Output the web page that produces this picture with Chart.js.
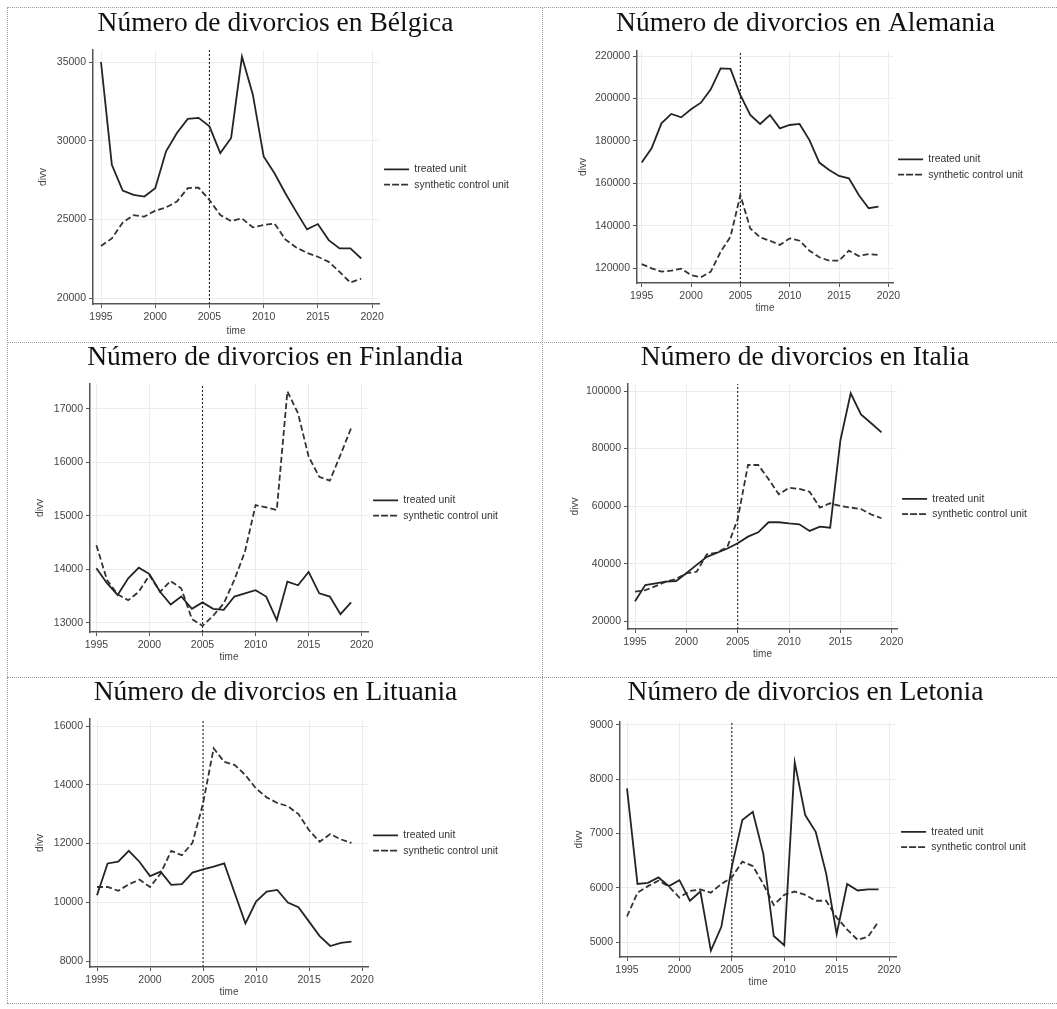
<!DOCTYPE html>
<html lang="es">
<head>
<meta charset="UTF-8" />
<meta name="viewport" content="width=device-width, initial-scale=1" />
<title>Número de divorcios - control sintético</title>
<script src="https://cdn.jsdelivr.net/npm/chart.js"></script>
<style>
  body { margin: 0; background: #fff; overflow: hidden; }
  #page { position: relative; width: 1057px; height: 1009px; overflow: hidden; background: #fff; }
  .sep { position: absolute; border: 0 dotted #9a9a9a; }
  .h { height: 0; border-top-width: 1px; }
  .v { width: 0; border-left-width: 1px; }
  canvas { position: absolute; }
</style>
</head>
<body>
<div id="page">
  <div class="sep h" style="left:7px;top:7px;width:1050px"></div>
  <div class="sep h" style="left:7px;top:342px;width:1050px"></div>
  <div class="sep h" style="left:7px;top:677px;width:1050px"></div>
  <div class="sep h" style="left:7px;top:1003px;width:1050px"></div>
  <div class="sep v" style="left:7px;top:7px;height:996px"></div>
  <div class="sep v" style="left:542px;top:7px;height:996px"></div>

  <canvas id="chartBel"></canvas>
  <canvas id="chartDeu"></canvas>
  <canvas id="chartFin"></canvas>
  <canvas id="chartIta"></canvas>
  <canvas id="chartLtu"></canvas>
  <canvas id="chartLva"></canvas>
</div>

<script>
const years = [1995, 1996, 1997, 1998, 1999, 2000, 2001, 2002, 2003, 2004, 2005, 2006,
               2007, 2008, 2009, 2010, 2011, 2012, 2013, 2014, 2015, 2016, 2017, 2018, 2019];
const xTicks = [1995, 2000, 2005, 2010, 2015, 2020];
const treatYear = 2005;
const seriesNames = ['treated unit', 'synthetic control unit'];

// Bélgica
const belTreated = [35000, 28470, 26830, 26550, 26450, 26980, 29320, 30490, 31380, 31450, 30910, 29210,
                    30170, 35340, 32940, 29000, 27930, 26660, 25490, 24360, 24700, 23680, 23150, 23150, 22510];
const belSynth   = [23300, 23790, 24790, 25270, 25170, 25550, 25760, 26130, 26980, 27020, 26230, 25270,
                    24890, 25060, 24490, 24640, 24740, 23720, 23210, 22870, 22620, 22300, 21660, 20980, 21230];
const belTicks   = [20000, 25000, 30000, 35000];

// Alemania
const deuTreated = [169800, 176500, 188300, 192700, 191100, 194900, 198000, 204300, 214200, 213900, 201600, 192200,
                    188000, 192200, 185900, 187500, 188000, 180400, 169800, 166300, 163500, 162400, 154500, 148300, 149000];
const deuSynth   = [122000, 120000, 118400, 118900, 119800, 116800, 115800, 118400, 127800, 134900, 154500, 138800,
                    134600, 133000, 131000, 134100, 133000, 128300, 125200, 123600, 123600, 128300, 125800, 126700, 126300];
const deuTicks   = [120000, 140000, 160000, 180000, 200000, 220000];

// Finlandia
const finTreated = [14020, 13740, 13520, 13830, 14030, 13910, 13580, 13340, 13490, 13260, 13380, 13260,
                    13240, 13490, 13550, 13610, 13490, 13050, 13770, 13700, 13950, 13550, 13490, 13160, 13380];
const finSynth   = [14450, 13800, 13530, 13420, 13580, 13890, 13580, 13780, 13640, 13070, 12940, 13130,
                    13360, 13800, 14330, 15200, 15160, 15110, 17330, 16920, 16110, 15730, 15660, 16140, 16640];
const finTicks   = [13000, 14000, 15000, 16000, 17000];

// Italia
const itaTreated = [27000, 32600, 33200, 33800, 34000, 36700, 39600, 42400, 43800, 45300, 47100, 49400,
                    50900, 54400, 54400, 54000, 53700, 51400, 52900, 52500, 82900, 99200, 91900, 88800, 85600];
const itaSynth   = [30300, 30800, 32200, 33800, 34700, 36700, 37200, 43300, 43900, 45900, 55500, 74300,
                    74300, 69400, 64100, 66400, 66000, 65000, 59500, 61000, 60100, 59500, 59000, 57100, 55800];
const itaTicks   = [20000, 40000, 60000, 80000, 100000];

// Lituania
const ltuTreated = [10240, 11320, 11380, 11750, 11380, 10890, 11040, 10590, 10620, 11010, 11120, 11210,
                    11320, 10300, 9280, 10020, 10360, 10420, 9990, 9830, 9340, 8850, 8510, 8620, 8660];
const ltuSynth   = [10520, 10520, 10390, 10610, 10770, 10520, 10980, 11750, 11600, 12020, 13360, 15240,
                    14780, 14670, 14330, 13870, 13570, 13380, 13270, 13000, 12450, 12060, 12320, 12140, 12020];
const ltuTicks   = [8000, 10000, 12000, 14000, 16000];

// Letonia
const lvaTreated = [7830, 6070, 6090, 6190, 6030, 6140, 5760, 5930, 4840, 5280, 6390, 7250,
                    7400, 6630, 5110, 4940, 8310, 7340, 7030, 6260, 5150, 6070, 5950, 5970, 5970];
const lvaSynth   = [5470, 5910, 6030, 6130, 6020, 5820, 5940, 5970, 5910, 6070, 6190, 6480,
                    6400, 6070, 5680, 5870, 5930, 5870, 5760, 5760, 5450, 5230, 5040, 5100, 5380];
const lvaTicks   = [5000, 6000, 7000, 8000, 9000];

// posiciones en la página (px): origen del canvas, área del gráfico, centro del título, etc.
const panels = [
  { id: 'chartBel', title: 'Número de divorcios en Bélgica', treated: belTreated, synth: belSynth, yTicks: belTicks,
    origin: [7, 2], height: 340, plot: [93, 50, 379, 304], xPx: [101, 372], yPx: [298, 62],
    titleCx: 275.5, titleBase: 33.3, divvX: 43, timeY: 331 },
  { id: 'chartDeu', title: 'Número de divorcios en Alemania', treated: deuTreated, synth: deuSynth, yTicks: deuTicks,
    origin: [542, 2], height: 340, plot: [637, 51, 893, 283], xPx: [641.7, 888.3], yPx: [268.3, 56],
    titleCx: 805.5, titleBase: 33, divvX: 583, timeY: 308 },
  { id: 'chartFin', title: 'Número de divorcios en Finlandia', treated: finTreated, synth: finSynth, yTicks: finTicks,
    origin: [7, 337], height: 340, plot: [90, 384, 368, 632], xPx: [96.4, 361.6], yPx: [622.7, 409],
    titleCx: 275.1, titleBase: 366.7, divvX: 40.6, timeY: 657.3 },
  { id: 'chartIta', title: 'Número de divorcios en Italia', treated: itaTreated, synth: itaSynth, yTicks: itaTicks,
    origin: [542, 337], height: 340, plot: [628, 384, 897, 629], xPx: [635, 891.7], yPx: [621.3, 391],
    titleCx: 805, titleBase: 366.7, divvX: 575, timeY: 654.3 },
  { id: 'chartLtu', title: 'Número de divorcios en Lituania', treated: ltuTreated, synth: ltuSynth, yTicks: ltuTicks,
    origin: [7, 672], height: 334, plot: [90, 719, 368, 967], xPx: [97, 362], yPx: [961, 726],
    titleCx: 275.5, titleBase: 701.7, divvX: 40.6, timeY: 992.7 },
  { id: 'chartLva', title: 'Número de divorcios en Letonia', treated: lvaTreated, synth: lvaSynth, yTicks: lvaTicks,
    origin: [542, 672], height: 334, plot: [620, 722, 896, 957], xPx: [627, 889], yPx: [942, 725],
    titleCx: 805.5, titleBase: 701.7, divvX: 579, timeY: 982.7 }
];

const lineColor = '#242424';
const axisColor = '#555555';
const textColor = '#444444';
const sans = "'Liberation Sans', Arial, sans-serif";
const serif = "'Liberation Serif', 'Times New Roman', serif";
const tickFont = 10.5;

// ancho de la leyenda, igual que lo calcula Chart.js
const legFont = 10.4, legBox = 25, legPad = 5;
const mctx = document.createElement('canvas').getContext('2d');
mctx.font = 'normal ' + legFont + 'px ' + sans;
const legTextW = Math.max(...seriesNames.map(s => mctx.measureText(s).width));
const legW = legPad + legBox + legFont / 2 + legTextW + 10;

function makeChart(p) {
  const [ox, oy] = p.origin;
  const ch = p.height;
  const L = p.plot[0] - ox, T = p.plot[1] - oy, R = p.plot[2] - ox, B = p.plot[3] - oy;
  const padRight = 4;
  const cw = Math.ceil(R + legW + padRight);

  const canvas = document.getElementById(p.id);
  canvas.width = cw; canvas.height = ch;
  canvas.style.left = ox + 'px'; canvas.style.top = oy + 'px';

  // rangos de las escalas a partir de la posición de los ticks
  const x0 = xTicks[0], x1 = xTicks[xTicks.length - 1];
  const xpp = (p.xPx[1] - p.xPx[0]) / (x1 - x0);
  const xMin = x0 - (p.xPx[0] - p.plot[0]) / xpp;
  const xMax = x1 + (p.plot[2] - p.xPx[1]) / xpp;
  const y0 = p.yTicks[0], y1 = p.yTicks[p.yTicks.length - 1];
  const ypp = (p.yPx[0] - p.yPx[1]) / (y1 - y0);
  const yMin = y0 - (p.plot[3] - p.yPx[0]) / ypp;
  const yMax = y1 + (p.yPx[1] - p.plot[1]) / ypp;

  const tfs = 27.5, tlh = tfs * 1.2;
  const tPadTop = (p.titleBase - oy) - 0.3375 * tfs - tlh / 2;
  const tPadBottom = T - tPadTop - tlh;
  const afs = 10, alh = afs * 1.2;
  // el título se centra entre padding.left y (ancho - padding.right)
  const padLeft = 2 * (p.titleCx - ox) - (cw - padRight);
  const yW = L - padLeft;
  const yTitlePad = (p.divvX - ox) - padLeft - alh / 2;
  const padBottom = ch - ((p.timeY - oy) + alh / 2);
  const xH = (ch - padBottom) - B;

  return new Chart(canvas, {
    type: 'line',
    data: {
      datasets: [
        {
          label: seriesNames[0],
          data: years.map((yr, i) => ({ x: yr, y: p.treated[i] })),
          borderColor: lineColor, borderWidth: 1.8, pointRadius: 0, tension: 0
        },
        {
          label: seriesNames[1],
          data: years.map((yr, i) => ({ x: yr, y: p.synth[i] })),
          borderColor: '#333333', borderWidth: 1.8, borderDash: [6, 3], pointRadius: 0, tension: 0
        },
        {
          label: 'tratamiento',
          data: [{ x: treatYear, y: yMin }, { x: treatYear, y: yMax }],
          borderColor: '#222', borderWidth: 1.1, borderDash: [2, 2], pointRadius: 0
        }
      ]
    },
    options: {
      responsive: false,
      animation: false,
      layout: { padding: { left: padLeft, right: padRight, top: 0, bottom: padBottom } },
      plugins: {
        title: {
          display: true,
          text: p.title,
          color: '#111',
          font: { family: serif, size: tfs, weight: 'normal' },
          padding: { top: tPadTop, bottom: tPadBottom }
        },
        legend: {
          position: 'right',
          fullSize: false,
          maxWidth: legW,
          labels: {
            boxWidth: legBox,
            boxHeight: 0,
            padding: legPad,
            color: '#333',
            font: { family: sans, size: legFont },
            filter: item => item.datasetIndex < 2
          }
        },
        tooltip: { enabled: false }
      },
      scales: {
        x: {
          type: 'linear',
          min: xMin, max: xMax,
          afterBuildTicks: s => { s.ticks = xTicks.map(v => ({ value: v })); },
          afterFit: s => { s.height = xH; },
          ticks: { autoSkip: false, maxRotation: 0, padding: 3, color: textColor,
                   font: { family: sans, size: tickFont }, callback: v => String(v) },
          grid: { color: '#ececec', tickColor: axisColor, tickLength: 4 },
          border: { color: axisColor, width: 1.5 },
          title: { display: true, text: 'time', color: textColor, padding: 0,
                   font: { family: sans, size: afs } }
        },
        y: {
          type: 'linear',
          min: yMin, max: yMax,
          afterBuildTicks: s => { s.ticks = p.yTicks.map(v => ({ value: v })); },
          afterFit: s => { s.width = yW; },
          ticks: { padding: 3, color: textColor, font: { family: sans, size: tickFont }, callback: v => String(v) },
          grid: { color: '#ececec', tickColor: axisColor, tickLength: 4 },
          border: { color: axisColor, width: 1.5 },
          title: { display: true, text: 'divv', color: textColor, padding: { top: yTitlePad, bottom: 0 },
                   font: { family: sans, size: afs } }
        }
      }
    }
  });
}

const charts = panels.map(makeChart);
</script>
</body>
</html>
